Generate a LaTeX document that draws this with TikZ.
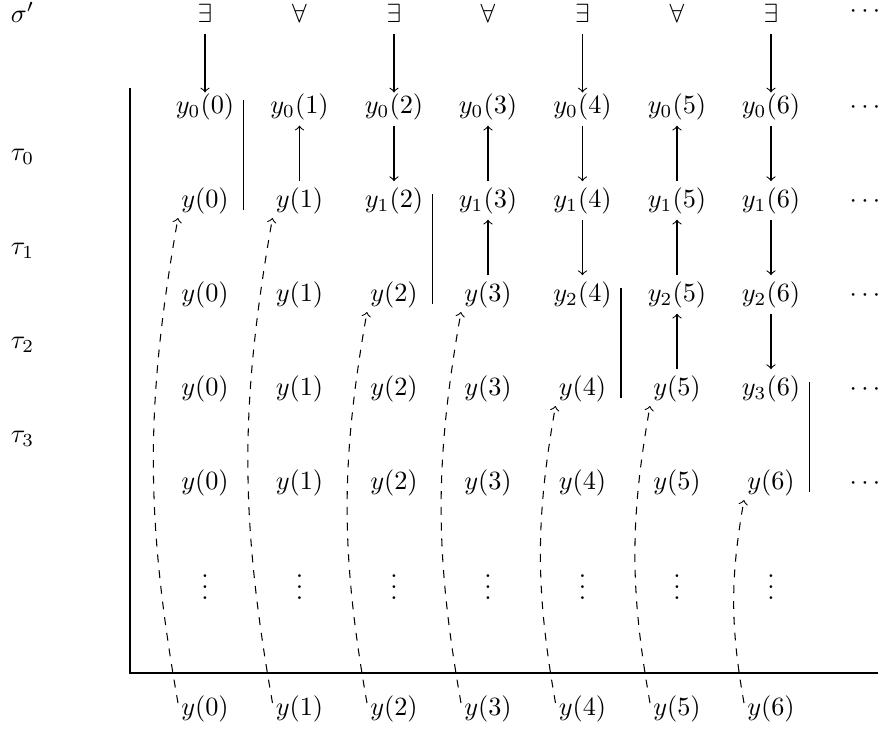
\documentclass[tikz,border=0pt]{standalone}
\usetikzlibrary{calc}
\begin{document}
\begin{tikzpicture}[x=0.38pt,y=-0.38pt,
  cell/.style={anchor=base,text height=1.5ex,text depth=.25ex},
  lab/.style={anchor=base west},
  arr/.style={->},
  qarr/.style={->,shorten >=-2pt},
  barline/.style={},
  dasharr/.style={->,dashed},
]
\useasboundingbox (0,0) rectangle (878,731);
% row labels
\node[lab] (sig) at (1.5,22) {$\sigma'$};
\foreach \i in {0,...,3} {
  \pgfmathsetmacro\yy{160.5+94*\i}
  \node[lab] (tau-\i) at (1.5,\yy) {$\tau_{\i}$};
}
% quantifiers
\foreach \k/\x in {0/205,1/299.5,2/394,3/488,4/582.5,5/677,6/771} {
  \ifodd\k
    \node[cell] (q-\k) at (\x,22) {$\forall$};
  \else
    \node[cell] (q-\k) at (\x,22) {$\exists$};
  \fi
}
\node[anchor=base] (q-dots) at (865,17.6) {$\cdots$};
% main grid
\foreach \r in {1,...,5} {
  \pgfmathsetmacro\yb{113.5+94*(\r-1)}
  \foreach \k/\x in {0/205,1/299.5,2/394,3/488,4/582.5,5/677,6/771} {
    \node[cell] (n-\r-\k) at (\x,\yb)
      {$y\ifnum\k<\numexpr2*\r-2\relax\else_{\number\numexpr\r-1\relax}\fi(\k)$};
  }
  \node[anchor=base] (d-\r) at (865,\yb) {$\cdots$};
}
% vdots and bottom row
\foreach \k/\x in {0/205,1/299.5,2/394,3/488,4/582.5,5/677,6/771} {
  \node[anchor=base] (v-\k) at (\x,599) {$\vdots$};
  \node[cell] (b-\k) at (\x,715) {$y(\k)$};
}
% axes
\coordinate (ax-top) at (130,88);
\coordinate (ax-corner) at (130,673);
\coordinate (ax-right) at (878,673);
\draw (ax-top) -- (ax-corner) -- (ax-right);
% quantifier arrows
\foreach \k in {0,2,4,6} \draw[qarr] (q-\k) -- (n-1-\k);
% down arrows
\foreach \k/\r in {2/1,4/1,4/2,6/1,6/2,6/3} {
  \pgfmathtruncatemacro\s{\r+1}
  \draw[arr] (n-\r-\k) -- (n-\s-\k);
}
% up arrows
\foreach \k/\r in {1/1,3/1,3/2,5/1,5/2,5/3} {
  \pgfmathtruncatemacro\s{\r+1}
  \draw[arr] (n-\s-\k) -- (n-\r-\k);
}
% bars
\foreach \k/\r in {0/1,2/2,4/3,6/4} {
  \pgfmathtruncatemacro\s{\r+1}
  \draw[barline] ($(n-\r-\k.base)+(38.5,-13.5)$) -- ($(n-\s-\k.base)+(38.5,2)$);
}
% dashed curves
\foreach \k/\t in {0/2,1/2,2/3,3/3,4/4,5/4,6/5} {
  \draw[dasharr] ($(b-\k.base)+(-27,-12)$) to[bend left=10] ($(n-\t-\k.base)+(-27,10.5)$);
}
\end{tikzpicture}
\end{document}
